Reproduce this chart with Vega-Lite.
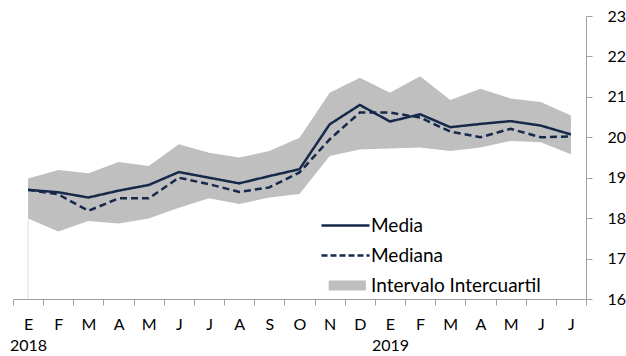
{
  "$schema": "https://vega.github.io/schema/vega-lite/v6.json",
  "width": 573,
  "height": 283,
  "autosize": {"type": "none"},
  "padding": {"left": 13, "top": 16, "right": 40, "bottom": 57},
  "background": "white",
  "config": {"view": {"stroke": null}, "font": "Lato"},
  "data": {"values": [
    {"mes": "2018-01 E", "Media": 18.70, "Mediana": 18.70, "q1": 17.99, "q3": 18.98},
    {"mes": "2018-02 F", "Media": 18.64, "Mediana": 18.59, "q1": 17.67, "q3": 19.19},
    {"mes": "2018-03 M", "Media": 18.51, "Mediana": 18.18, "q1": 17.93, "q3": 19.11},
    {"mes": "2018-04 A", "Media": 18.68, "Mediana": 18.49, "q1": 17.87, "q3": 19.39},
    {"mes": "2018-05 M", "Media": 18.82, "Mediana": 18.49, "q1": 17.99, "q3": 19.29},
    {"mes": "2018-06 J", "Media": 19.14, "Mediana": 19.00, "q1": 18.26, "q3": 19.83},
    {"mes": "2018-07 J", "Media": 19.00, "Mediana": 18.84, "q1": 18.49, "q3": 19.62},
    {"mes": "2018-08 A", "Media": 18.86, "Mediana": 18.65, "q1": 18.35, "q3": 19.50},
    {"mes": "2018-09 S", "Media": 19.04, "Mediana": 18.76, "q1": 18.51, "q3": 19.66},
    {"mes": "2018-10 O", "Media": 19.21, "Mediana": 19.13, "q1": 18.60, "q3": 19.99},
    {"mes": "2018-11 N", "Media": 20.32, "Mediana": 19.95, "q1": 19.54, "q3": 21.10},
    {"mes": "2018-12 D", "Media": 20.80, "Mediana": 20.61, "q1": 19.70, "q3": 21.47},
    {"mes": "2019-01 E", "Media": 20.39, "Mediana": 20.61, "q1": 19.72, "q3": 21.10},
    {"mes": "2019-02 F", "Media": 20.57, "Mediana": 20.49, "q1": 19.75, "q3": 21.51},
    {"mes": "2019-03 M", "Media": 20.25, "Mediana": 20.14, "q1": 19.66, "q3": 20.92},
    {"mes": "2019-04 A", "Media": 20.33, "Mediana": 20.00, "q1": 19.75, "q3": 21.20},
    {"mes": "2019-05 M", "Media": 20.40, "Mediana": 20.21, "q1": 19.91, "q3": 20.96},
    {"mes": "2019-06 J", "Media": 20.29, "Mediana": 20.00, "q1": 19.88, "q3": 20.87},
    {"mes": "2019-07 J", "Media": 20.07, "Mediana": 20.02, "q1": 19.58, "q3": 20.54}
  ]},
  "encoding": {
    "x": {
      "field": "mes", "type": "ordinal", "sort": null,
      "scale": {"type": "band", "paddingInner": 0, "paddingOuter": 0},
      "axis": {
        "title": null, "orient": "bottom", "labelAngle": 0, "tickBand": "extent",
        "domainColor": "#A0A0A0", "tickColor": "#A0A0A0", "tickSize": 6, "domainWidth": 1,
        "labelFont": "Lato", "labelFontSize": 16, "labelColor": "#000000", "labelPadding": 11,
        "labelLineHeight": 21,
        "labelExpr": "isString(datum.value) ? (slice(datum.value,5,7)=='01' ? [slice(datum.value,8), slice(datum.value,0,4)] : slice(datum.value,8)) : ''"
      }
    }
  },
  "layer": [
    {
      "mark": {"type": "area", "interpolate": "linear"},
      "encoding": {
        "y": {
          "field": "q1", "type": "quantitative",
          "scale": {"domain": [16, 23], "nice": false, "zero": false},
          "axis": {
            "title": null, "orient": "right", "values": [16, 17, 18, 19, 20, 21, 22, 23], "grid": false,
            "domainColor": "#A0A0A0", "tickColor": "#A0A0A0", "tickSize": 6,
            "labelFont": "Lato", "labelFontSize": 16, "labelColor": "#000000", "labelPadding": 15
          }
        },
        "y2": {"field": "q3"},
        "color": {"datum": "Intervalo Intercuartil"}
      }
    },
    {
      "transform": [{"filter": "datum.mes == '2018-01 E'"}],
      "mark": {"type": "rule", "color": "#DCDCDC", "strokeWidth": 1},
      "encoding": {
        "y": {"field": "q1", "type": "quantitative"},
        "y2": {"datum": 16}
      }
    },
    {
      "transform": [{"fold": ["Media", "Mediana"], "as": ["serie", "valor"]}],
      "mark": {"type": "line", "strokeWidth": 2.5, "interpolate": "linear"},
      "encoding": {
        "y": {"field": "valor", "type": "quantitative"},
        "color": {
          "field": "serie", "type": "nominal",
          "scale": {"domain": ["Media", "Mediana", "Intervalo Intercuartil"], "range": ["#17294A", "#17294A", "#BFBFBF"]},
          "legend": {
            "orient": "none", "legendX": 323, "legendY": 200, "title": null, "padding": 0,
            "symbolSize": 576, "labelFont": "Lato", "labelFontSize": 19, "labelColor": "#000000",
            "labelLimit": 300, "labelOffset": 16, "rowPadding": 10, "symbolStrokeWidth": 2.5,
            "encode": {
              "symbols": {
                "update": {
                  "shape": {"signal": "datum.value === 'Intervalo Intercuartil' ? 'M-1.4,-0.42H1.7V0.42H-1.4Z' : 'M-2,0H2'"},
                  "fill": {"signal": "datum.value === 'Intervalo Intercuartil' ? '#BFBFBF' : 'transparent'"},
                  "stroke": {"signal": "datum.value === 'Intervalo Intercuartil' ? 'transparent' : '#17294A'"},
                  "strokeDash": {"signal": "datum.value === 'Mediana' ? [6, 3] : [1, 0]"},
                  "strokeWidth": {"signal": "datum.value === 'Intervalo Intercuartil' ? 0 : 2.5"},
                  "opacity": {"value": 1}
                }
              }
            }
          }
        },
        "strokeDash": {
          "field": "serie", "type": "nominal",
          "scale": {"domain": ["Media", "Mediana"], "range": [[1, 0], [7, 4]]},
          "legend": null
        }
      }
    }
  ]
}
